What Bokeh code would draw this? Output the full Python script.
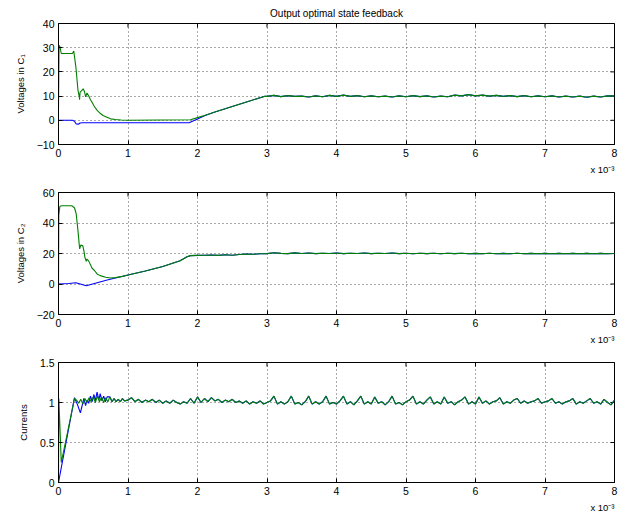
import math
from bokeh.plotting import figure
from bokeh.layouts import column
from bokeh.models import Range1d, FixedTicker, Title
from bokeh.embed import file_html
from bokeh.resources import INLINE

# ---------------- data (time in units of 1e-3 s) ----------------
x_ticks = [0, 1, 2, 3, 4, 5, 6, 7, 8]

# Voltages in C1
c1_green_t = [0, 0.008, 0.02, 0.04, 0.20, 0.22, 0.25, 0.28, 0.30, 0.303, 0.31, 0.33, 0.355,
              0.375, 0.39, 0.41, 0.435, 0.46, 0.48, 0.51, 0.53, 0.56, 0.60, 0.64, 0.68, 0.75,
              0.82, 0.90, 1.00, 1.90, 2.00, 2.10]
c1_green_v = [5, 31, 30.5, 27.6, 27.6, 28.6, 22, 12.5, 9.5, 8.5, 11.5, 12.2, 13.0,
              11.8, 9.7, 11.3, 10.0, 8.5, 7.6, 6.0, 5.1, 4.0, 2.9, 2.0, 1.5, 0.6,
              0.3, 0.1, 0.0, 0.2, 1.1, 2.0]
c1_blue_t = [0, 0.20, 0.23, 0.255, 0.29, 0.31, 0.35, 1.88, 2.0, 2.1]
c1_blue_v = [0, 0, -0.4, -1.5, -1.6, -1.1, -1.0, -1.0, 0.5, 1.9]
c1_shared_t = [2.25, 2.5, 2.75, 2.97]
c1_shared_v = [3.4, 5.7, 8.0, 9.9]
# 3.0 .. 8.0 every 0.1
c1_tail = [9.9, 10.3, 9.8, 10.2, 9.9, 10.0, 9.6, 10.1, 9.7, 10.3,
           9.9, 10.4, 9.9, 10.2, 9.7, 10.1, 9.7, 10.0, 9.6, 10.1,
           9.7, 10.2, 9.8, 10.1, 9.6, 10.0, 9.7, 10.4, 10.1, 10.6,
           10.1, 10.4, 10.0, 10.3, 9.9, 10.2, 9.8, 10.2, 9.7, 10.1,
           9.7, 10.1, 9.6, 10.0, 9.6, 10.0, 9.5, 10.0, 9.6, 10.1, 10.0]

# Voltages in C2
c2_green_t = [0, 0.004, 0.02, 0.05, 0.19, 0.23, 0.255, 0.28, 0.30, 0.305, 0.32, 0.35, 0.365,
              0.38, 0.40, 0.41, 0.435, 0.46, 0.48, 0.52, 0.555, 0.60, 0.68, 0.75, 0.82, 0.92]
c2_green_v = [-5, 45, 51, 51.3, 51.3, 50, 45.9, 35, 25, 23, 25.5, 25, 21.9,
              17.5, 14.9, 16.4, 15, 12.7, 10.5, 8.7, 6.6, 5.5, 4.4, 3.9, 4.2, 5.0]
c2_blue_t = [0, 0.15, 0.25, 0.30, 0.40, 0.70]
c2_blue_v = [0, 0.3, 0.8, 0.2, -1.1, 2.6]
c2_shared_t = [1.0, 1.25, 1.5, 1.75, 1.85, 1.9, 2.0]
c2_shared_v = [5.9, 8.5, 11.5, 15.3, 17.8, 18.6, 18.8]
# 2.1 .. 8.0 every 0.1
c2_tail = [18.9, 19.0, 18.8, 19.2, 18.9, 19.3, 19.6, 19.5, 19.8, 19.9,
           20.5, 20.1, 19.9, 20.4, 20.0, 20.3, 19.9, 20.2, 20.0, 20.3,
           19.9, 20.2, 20.0, 20.3, 19.9, 20.2, 20.0, 20.3, 19.9, 20.2,
           19.8, 20.2, 19.9, 20.2, 19.8, 20.2, 19.9, 20.2, 19.8, 20.1,
           19.8, 20.2, 19.8, 20.1, 19.8, 20.2, 19.8, 20.1, 19.8, 20.1,
           19.8, 20.1, 19.8, 20.1, 19.8, 20.1, 19.8, 20.1, 19.8, 20.0]

# Currents
i_green_t = [0, 0.005, 0.04, 0.23, 0.26, 0.29, 0.32, 0.35, 0.38, 0.41, 0.44, 0.47, 0.50,
             0.53, 0.56, 0.59, 0.62, 0.65, 0.68, 0.71]
i_green_v = [0, 1.05, 0.25, 1.05, 1.03, 0.99, 1.04, 0.98, 1.05, 1.00, 1.06, 1.01, 1.07,
             1.00, 1.08, 1.01, 1.07, 1.00, 1.06, 1.01]
i_blue_t = [0, 0.23, 0.27, 0.315, 0.365, 0.39, 0.41, 0.435, 0.46, 0.485, 0.51, 0.53, 0.555,
            0.58, 0.60, 0.625, 0.65, 0.675, 0.70]
i_blue_v = [0, 1.06, 0.98, 0.87, 1.05, 0.96, 1.03, 0.99, 1.08, 1.01, 1.10, 1.02, 1.13,
            1.03, 1.11, 1.02, 1.08, 1.01, 1.07]
i_shared_t = [0.74, 0.77, 0.80, 0.83, 0.86, 0.89, 0.92, 0.95]
i_shared_v = [1.07, 1.01, 1.05, 1.01, 1.04, 1.01, 1.05, 1.02]
# 1.00 .. 8.00 every 0.05
i_tail = [1.03, 1.06, 1.01, 1.04, 1.00, 1.03, 1.01, 1.04, 1.00, 1.03, 0.99,
          1.02, 0.99, 1.03, 1.00, 0.98, 1.01, 0.99, 1.05, 0.99, 1.07,
          1.00, 1.05, 1.01, 1.06, 1.02, 1.04, 1.00, 1.03, 1.01, 1.04,
          1.00, 1.02, 0.99, 1.02, 0.98, 1.01, 0.99, 1.02, 0.98, 1.00,
          1.02, 1.08, 0.98, 1.01, 0.98, 1.01, 1.08, 0.98, 1.00, 0.97,
          1.01, 1.08, 0.98, 1.01, 0.98, 1.01, 1.08, 0.98, 1.00, 0.98,
          1.02, 1.08, 0.98, 1.01, 0.97, 1.02, 1.08, 0.98, 1.01, 0.98,
          1.07, 0.99, 1.01, 0.97, 1.01, 1.08, 0.98, 1.00, 0.97, 1.01,
          1.03, 1.08, 0.98, 1.01, 0.98, 1.03, 1.07, 0.98, 1.01, 0.98,
          1.07, 0.99, 1.01, 0.97, 1.01, 1.03, 1.07, 0.98, 1.01, 0.98,
          1.07, 0.99, 1.02, 0.98, 1.01, 1.02, 1.06, 0.98, 1.01, 0.99,
          1.03, 1.05, 0.99, 1.02, 0.99, 1.01, 1.02, 1.05, 0.99, 1.01,
          1.02, 1.05, 0.99, 1.01, 0.98, 1.01, 1.02, 1.05, 0.98, 1.01,
          0.99, 1.02, 1.05, 0.99, 1.01, 0.98, 1.04, 1.00, 0.97, 1.03]

title_text = "Output optimal state feedback"
x_exponent_text = "x 10\u207b\u00b3"
y1_ticks = [-10, 0, 10, 20, 30, 40]
y2_ticks = [-20, 0, 20, 40, 60]
y3_ticks = [0, 0.5, 1, 1.5]

# sample grids of the recorded tails
c1_tail_t = [round(3.0 + 0.1 * k, 3) for k in range(len(c1_tail))]
c2_tail_t = [round(2.1 + 0.1 * k, 3) for k in range(len(c2_tail))]
i_tail_t = [round(1.0 + 0.05 * k, 3) for k in range(len(i_tail))]

# ---------------- styling ----------------
FONT = "Liberation Sans"
BLUE = "#0000ff"
GREEN = "#008000"
LW = 1.1


def minus(ticks):
    return {t: ("\u2212" + str(abs(t))) for t in ticks if t < 0}


def make_panel(height, top, bottom, yr, yticks, ylabel):
    p = figure(width=638, height=height, x_range=Range1d(0, 8), y_range=Range1d(*yr),
               output_backend="svg", toolbar_location=None,
               min_border_left=58, min_border_right=24,
               min_border_top=top, min_border_bottom=bottom)
    p.background_fill_color = "white"
    p.border_fill_color = "white"
    p.outline_line_color = "black"
    p.outline_line_alpha = 1
    p.outline_line_width = 1

    p.xaxis.ticker = FixedTicker(ticks=x_ticks)
    p.yaxis.ticker = FixedTicker(ticks=yticks)
    p.yaxis.major_label_overrides = minus(yticks)
    for ax in (p.xaxis[0], p.yaxis[0]):
        ax.major_tick_in = 4
        ax.major_tick_out = 0
        ax.minor_tick_line_color = None
        ax.axis_line_color = "black"
        ax.major_tick_line_color = "black"
        ax.major_label_text_font = FONT
        ax.major_label_text_font_size = "10.5px"
        ax.major_label_text_color = "black"
        ax.major_label_standoff = 4
    p.yaxis.axis_label = ylabel
    p.yaxis.axis_label_text_font = FONT
    p.yaxis.axis_label_text_font_size = "9.5px"
    p.yaxis.axis_label_text_font_style = "normal"
    p.yaxis.axis_label_text_color = "black"
    p.yaxis.axis_label_standoff = 8

    # inward ticks on the top and right edges of the box
    p.scatter(x=x_ticks, y=[yr[1]] * len(x_ticks), marker="dash", size=8,
              angle=math.pi / 2, line_color="black", line_width=1)
    p.scatter(x=[8] * len(yticks), y=yticks, marker="dash", size=8,
              line_color="black", line_width=1)

    p.grid.grid_line_color = "#555555"
    p.grid.grid_line_dash = "1 3"
    p.grid.grid_line_width = 1

    p.add_layout(Title(text=x_exponent_text, align="right", text_font=FONT,
                       text_font_size="9.5px", text_font_style="normal",
                       text_color="black", standoff=4), "below")
    return p


p1 = make_panel(176, 23, 32, (-10, 40), y1_ticks, "Voltages in C\u2081")
p2 = make_panel(170, 16, 32, (-20, 60), y2_ticks, "Voltages in C\u2082")
p3 = make_panel(168, 16, 31, (0, 1.5), y3_ticks, "Currents")

p1.title.text = title_text
p1.title.align = "center"
p1.title.text_font = FONT
p1.title.text_font_size = "10px"
p1.title.text_font_style = "normal"
p1.title.text_color = "black"
p1.title.standoff = 9

# C1
p1.line(c1_blue_t + c1_shared_t + c1_tail_t, c1_blue_v + c1_shared_v + c1_tail,
        line_color=BLUE, line_width=LW)
p1.line(c1_green_t + c1_shared_t + c1_tail_t, c1_green_v + c1_shared_v + c1_tail,
        line_color=GREEN, line_width=LW)
# C2
p2.line(c2_blue_t + c2_shared_t + c2_tail_t, c2_blue_v + c2_shared_v + c2_tail,
        line_color=BLUE, line_width=LW)
p2.line(c2_green_t + c2_shared_t + c2_tail_t, c2_green_v + c2_shared_v + c2_tail,
        line_color=GREEN, line_width=LW)
# Currents
p3.line(i_blue_t + i_shared_t + i_tail_t, i_blue_v + i_shared_v + i_tail,
        line_color=BLUE, line_width=LW)
p3.line(i_green_t + i_shared_t + i_tail_t, i_green_v + i_shared_v + i_tail,
        line_color=GREEN, line_width=LW)

layout = column(p1, p2, p3, spacing=0)
open("out.html", "w").write(file_html(layout, INLINE))
